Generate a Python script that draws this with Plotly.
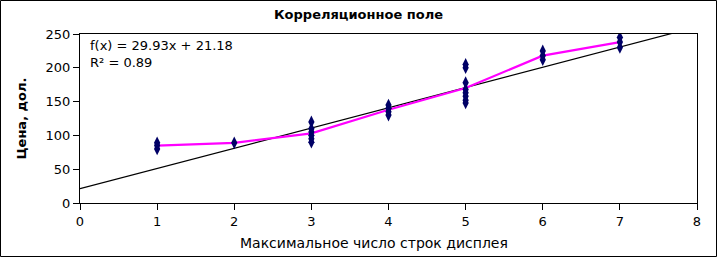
import plotly.graph_objects as go

# Observed data (x = max display rows, y = price, USD)
x_vals = [1, 1, 1,
          2,
          3, 3, 3, 3, 3, 3,
          4, 4, 4, 4,
          5, 5, 5, 5, 5, 5, 5, 5,
          6, 6, 6,
          7, 7, 7]
y_vals = [80, 85, 89,
          89,
          90, 95, 100, 105, 110, 120,
          130, 135, 140, 145,
          148, 152, 158, 163, 168, 178, 200, 205,
          212, 218, 225,
          230, 238, 245]

# Mean price per category (magenta line)
mean_x = [1, 2, 3, 4, 5, 6, 7]
mean_y = [85, 89, 103, 138, 170, 218, 238]

# Linear trend coefficients
slope = 29.93
intercept = 21.18
trend_x = [0, 8]
trend_y = [intercept + slope * t for t in trend_x]

x_ticks = [0, 1, 2, 3, 4, 5, 6, 7, 8]
y_ticks = [0, 50, 100, 150, 200, 250]

FONT = "DejaVu Sans"

fig = go.Figure()
fig.add_trace(go.Scatter(x=trend_x, y=trend_y, mode="lines",
                         line=dict(color="black", width=1.2), hoverinfo="skip"))
fig.add_trace(go.Scatter(x=mean_x, y=mean_y, mode="lines",
                         line=dict(color="#ff00ff", width=2.2)))
fig.add_trace(go.Scatter(x=x_vals, y=y_vals, mode="markers",
                         marker=dict(symbol="diamond-tall", size=9, color="#000066",
                                     line=dict(width=0))))

L, R, T, B = 80, 20, 34, 54
W, H = 717, 257
pw, ph = W - L - R, H - T - B

fig.update_layout(
    width=W, height=H,
    margin=dict(l=L, r=R, t=T, b=B),
    paper_bgcolor="white", plot_bgcolor="white",
    showlegend=False,
    font=dict(family=FONT, size=13, color="black"),
    title=dict(text="<b>Корреляционное поле</b>", x=0.5, xanchor="center",
               y=1 - 14 / H, yanchor="middle", font=dict(family=FONT, size=13)),
    xaxis=dict(range=[0, 8], tickvals=x_ticks, showgrid=False, zeroline=False,
               showline=True, linecolor="black", linewidth=1, mirror=True,
               ticks="outside", ticklen=6, tickcolor="black"),
    yaxis=dict(range=[0, 250], tickvals=y_ticks, showgrid=False, zeroline=False,
               showline=True, linecolor="black", linewidth=1, mirror=True,
               ticks="outside", ticklen=6, tickcolor="black",
               title=dict(text="<b>Цена, дол.</b>", standoff=16,
                          font=dict(family=FONT, size=13))),
    annotations=[
        dict(text="f(x) = 29.93x + 21.18<br>R² = 0.89", xref="paper", yref="paper",
             x=8 / pw, y=1 - 2 / ph, xanchor="left", yanchor="top", showarrow=False,
             align="left", font=dict(family=FONT, size=13)),
        dict(text="Максимальное число строк дисплея", xref="paper", yref="paper",
             x=(374 - L) / pw, y=-(243 - T - ph) / ph, xanchor="center",
             yanchor="middle", showarrow=False, font=dict(family=FONT, size=14)),
    ],
    shapes=[
        dict(type="rect", xref="paper", yref="paper",
             x0=(0.5 - L) / pw, x1=(W - 0.5 - L) / pw,
             y0=-(B - 0.5) / ph, y1=(ph + T - 0.5) / ph,
             line=dict(color="black", width=1)),
    ],
)

fig.write_html("out.html")
